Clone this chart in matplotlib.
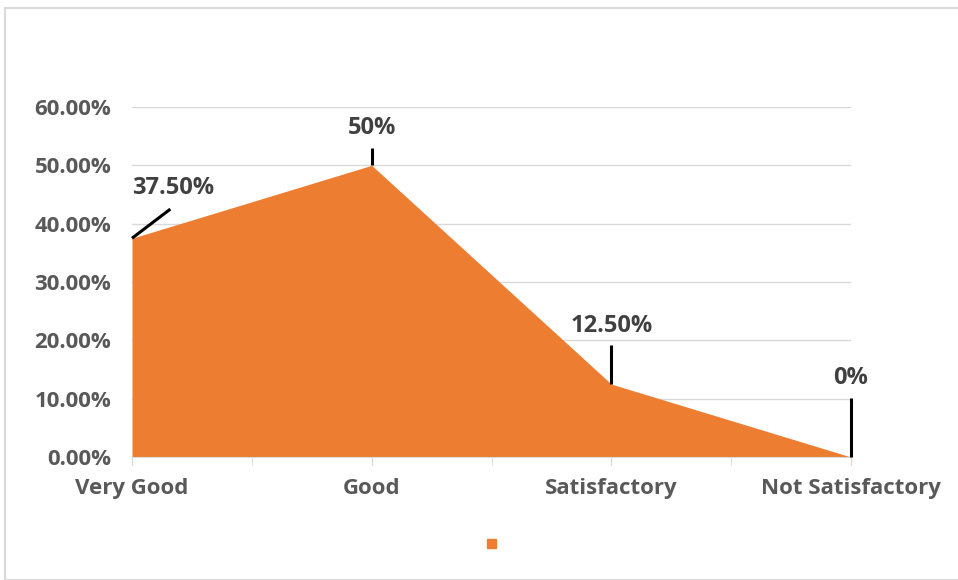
import matplotlib.pyplot as plt
from matplotlib.patches import Rectangle

# categories and share of responses
categories = ["Very Good", "Good", "Satisfactory", "Not Satisfactory"]
values = [37.5, 50.0, 12.5, 0.0]
labels = ["37.50%", "50%", "12.50%", "0%"]
yticks = [0, 10, 20, 30, 40, 50, 60]

# leader line ends / label positions (data coords)
leader_end = [(0.16, 42.5), (1, 53.0), (2, 19.2), (3, 10.1)]
label_pos = [(0.17, 46.1), (1, 56.4), (2, 22.4), (3, 13.5)]

orange = "#ED7D31"
grey = "#595959"
plt.rcParams['font.family'] = ['Open Sans', 'DejaVu Sans']

fig = plt.figure(figsize=(9.58, 5.8), dpi=100)
ax = fig.add_axes([132/958, 123/580, (851-132)/958, 350/580])

x = list(range(len(categories)))
ax.fill_between(x, values, 0, color=orange, linewidth=0, zorder=2)

# data labels with leader lines
for i, v in enumerate(values):
    lx, ly = leader_end[i]
    ax.plot([i, lx], [v, ly], color="black", lw=2.2, zorder=3,
            solid_capstyle="butt", clip_on=False)
    tx, ty = label_pos[i]
    ax.text(tx, ty, labels[i], ha="center", va="center", fontsize=17,
            fontweight="bold", color="#404040")

ax.set_xlim(0, 3)
ax.set_ylim(0, 60)
ax.set_yticks(yticks)
ax.set_yticklabels(["%.2f%%" % t for t in yticks])
ax.set_xticks(x)
ax.set_xticklabels(categories)
ax.set_xticks([0.5, 1.5, 2.5], minor=True)
ax.grid(axis="y", color="#D9D9D9", lw=1, zorder=0)
ax.set_axisbelow(True)
for s in ["top", "right", "left"]:
    ax.spines[s].set_visible(False)
ax.spines["bottom"].set_color("#D9D9D9")
ax.tick_params(axis="y", length=0, pad=15, labelsize=16, labelcolor=grey)
ax.tick_params(axis="x", which="both", length=6, color="#D9D9D9", pad=9,
               labelsize=16, labelcolor=grey)
for t in ax.get_xticklabels() + ax.get_yticklabels():
    t.set_fontweight("bold")

# legend marker with no text
fig.patches.append(Rectangle((487/958, 32/580), 9/958, 9/580, transform=fig.transFigure,
                             color=orange, figure=fig))
# chart border
fig.patches.append(Rectangle((5/958, 0), 1.0, 572/580, transform=fig.transFigure,
                             fill=False, edgecolor="#D9D9D9", lw=1.5, figure=fig))

fig.savefig("out.png", dpi=100)
